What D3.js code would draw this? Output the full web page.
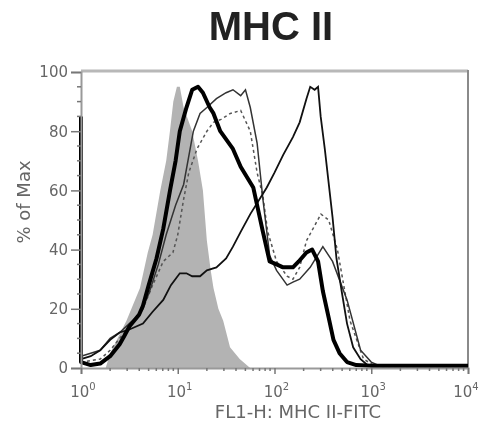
<!DOCTYPE html>
<html>
<head>
<meta charset="utf-8">
<script src="https://cdn.jsdelivr.net/npm/d3@7"></script>
<style>
  body { margin: 0; background: #fff; }
  svg { display: block; filter: blur(0.5px); }
</style>
</head>
<body>
<div id="chart"></div>
<script>
// tick values
var yTicks = [0, 20, 40, 60, 80, 100];
var xDecades = [1, 10, 100, 1000, 10000];
var xExponents = ["0", "1", "2", "3", "4"];

// isotype control (gray filled)
var isotype = [[1,0],[1.8,0],[2.0,5],[2.95,16],[4.07,27],[4.9,39],[5.5,45],[6.6,60],[7.6,70],[8.3,80],[9.0,90],[9.8,95],[10.5,95],[11.5,88],[14.1,80],[16.2,70],[18.2,60],[20,43],[21.9,33],[23.4,27],[26.3,20],[29.5,16],[34.7,7],[43.7,3],[56,0],[10000,0]];

// thick black
var thick = [[1,85],[1,2],[1.26,1],[1.58,1.5],[2.0,4],[2.51,8],[2.82,11],[3.16,14],[3.98,18],[4.37,21],[5.01,28],[6.03,37],[7.08,47],[8.32,60],[9.5,70],[10.5,80],[12.3,88],[14.1,94],[16.2,95],[18.2,93],[21.4,88],[23.4,86],[27.5,80],[37.2,74],[44.7,68],[60.3,61],[75.9,46],[89.1,36],[105,35],[123,34],[155,34],[178,36],[214,39],[245,40],[282,36],[316,26],[363,17],[407,9.5],[470,5],[562,2],[700,1],[1000,0.8],[10000,0.8]];

// thin line with high peak near 10^2.4
var thinA = [[1,3],[1.26,4],[1.58,6],[2.0,9.5],[2.51,12],[3.16,13],[4.37,15],[5.5,19],[7.08,23],[8.5,28],[10.5,32],[12.3,32],[14.1,31],[17,31],[20,33],[25.1,34],[31.6,37],[37.2,41],[44.7,46],[56.2,52],[70,57],[83.2,61],[100,66],[123,72],[155,78],[182,83],[214,91],[234,95],[260,94],[282,95],[300,85],[331,74],[398,51],[437,37],[500,25],[562,15],[650,7],[776,3],[912,1],[1000,0.5],[10000,0.5]];

// thin line with plateau near 10^1.6
var thinB = [[1,4],[1.26,5],[1.58,6],[2.0,10],[2.51,12],[3.16,15],[3.98,18],[5.01,25],[6.3,35],[7.59,45],[9.5,55],[11.5,62],[14.5,80],[17,86],[20,88],[25.1,91],[31.6,93],[37.2,94],[44.7,92],[50.1,94],[56.2,88],[66.1,76],[75.9,57],[89.1,38],[105,33],[135,28],[155,29],[182,30],[234,34],[316,41],[398,36],[562,23],[776,6],[1000,2],[1259,0.5],[10000,0.5]];

// dotted line
var dotted = [[1,2],[1.58,3],[2.0,6],[2.51,10],[3.16,14],[4.37,20],[5.5,28],[7.08,36],[8.91,39],[10,45],[11.5,57],[13,66],[15.8,74],[20,80],[23.4,83],[28,84],[35,86],[44.7,87],[56.2,80],[66.1,66],[75.9,58],[85.1,46],[105,36],[135,31],[155,30],[182,34],[214,43],[302,52],[363,50],[447,40],[603,16],[832,3],[1122,0.5],[10000,0.5]];

var W = 479, H = 421;
var margin = {top: 72, right: 11, bottom: 53, left: 81};
var width = W - margin.left - margin.right, height = H - margin.top - margin.bottom;

var svg = d3.select("#chart").append("svg")
    .attr("width", W).attr("height", H);

// title
svg.append("text")
    .attr("x", 271).attr("y", 40)
    .attr("text-anchor", "middle")
    .attr("font-family", "Liberation Sans, Arial, sans-serif")
    .attr("font-weight", "bold")
    .attr("font-size", 40)
    .attr("fill", "#222")
    .text("MHC II");

var g = svg.append("g").attr("transform", "translate(" + margin.left + "," + margin.top + ")");

var x = d3.scaleLog().domain([1, 10000]).range([0, width]);
var y = d3.scaleLinear().domain([0, 100]).range([height, 0]);

// gray filled isotype
g.append("path")
    .datum(isotype)
    .attr("fill", "#b3b3b3")
    .attr("d", d3.area().x(d => x(d[0])).y0(y(0)).y1(d => y(d[1])));

// frame
g.append("line").attr("x1", 0).attr("x2", width).attr("y1", -1).attr("y2", -1)
    .attr("stroke", "#b8b8b8").attr("stroke-width", 3);
g.append("line").attr("x1", width).attr("x2", width).attr("y1", -2).attr("y2", height)
    .attr("stroke", "#8a8a8a").attr("stroke-width", 2);

var line = d3.line().x(d => x(d[0])).y(d => y(d[1]));

g.append("path").datum(dotted)
    .attr("fill", "none").attr("stroke", "#555").attr("stroke-width", 1.5)
    .attr("stroke-dasharray", "3,3").attr("d", line);
g.append("path").datum(thinB)
    .attr("fill", "none").attr("stroke", "#333").attr("stroke-width", 1.5).attr("d", line);
g.append("path").datum(thinA)
    .attr("fill", "none").attr("stroke", "#111").attr("stroke-width", 1.8).attr("d", line);
g.append("path").datum(thick)
    .attr("fill", "none").attr("stroke", "#000").attr("stroke-width", 4)
    .attr("stroke-linejoin", "round").attr("d", line);

// y axis
var yAxis = g.append("g")
    .call(d3.axisLeft(y).tickValues(yTicks).tickSize(10).tickPadding(3));
yAxis.select(".domain").attr("stroke", "#999").attr("stroke-width", 2);
yAxis.selectAll(".tick line").attr("stroke", "#777").attr("stroke-width", 1.5);
yAxis.selectAll(".tick text")
    .attr("font-family", "DejaVu Sans, sans-serif").attr("font-size", 15).attr("fill", "#666");

// minor y ticks
g.append("g").selectAll("line")
    .data(d3.range(5, 100, 5).filter(v => v % 20 != 0))
    .enter().append("line")
    .attr("x1", -4).attr("x2", 0)
    .attr("y1", d => y(d)).attr("y2", d => y(d))
    .attr("stroke", "#777").attr("stroke-width", 1.5);

// x axis
var xAxis = g.append("g")
    .attr("transform", "translate(0," + height + ")")
    .call(d3.axisBottom(x).tickValues(xDecades).tickSize(6).tickFormat(""));
xAxis.select(".domain").attr("stroke", "#999").attr("stroke-width", 2);
xAxis.selectAll(".tick line").attr("stroke", "#777").attr("stroke-width", 1.5);

// minor x ticks
var minors = [];
xDecades.slice(0, 4).forEach(function(d) { for (var k = 2; k < 10; k++) minors.push(d * k); });
g.append("g").selectAll("line")
    .data(minors).enter().append("line")
    .attr("x1", d => x(d)).attr("x2", d => x(d))
    .attr("y1", height).attr("y2", height + 3)
    .attr("stroke", "#777").attr("stroke-width", 1.5);

// x tick labels 10^n
var xl = g.append("g").selectAll("text")
    .data(xDecades).enter().append("text")
    .attr("x", (d, i) => x(d) + (i == 4 ? -2 : 2))
    .attr("y", height + 29)
    .attr("text-anchor", "middle")
    .attr("font-family", "DejaVu Sans, sans-serif")
    .attr("font-size", 15)
    .attr("fill", "#666");
xl.append("tspan").text("10");
xl.append("tspan").attr("dy", -7).attr("font-size", 10).text((d, i) => xExponents[i]);

// axis titles
svg.append("text")
    .attr("x", 298).attr("y", 418)
    .attr("text-anchor", "middle")
    .attr("font-family", "DejaVu Sans, sans-serif")
    .attr("font-size", 18)
    .attr("fill", "#666")
    .text("FL1-H: MHC II-FITC");

svg.append("text")
    .attr("transform", "translate(30,202) rotate(-90)")
    .attr("text-anchor", "middle")
    .attr("font-family", "DejaVu Sans, sans-serif")
    .attr("font-size", 18)
    .attr("fill", "#666")
    .text("% of Max");
</script>
</body>
</html>
